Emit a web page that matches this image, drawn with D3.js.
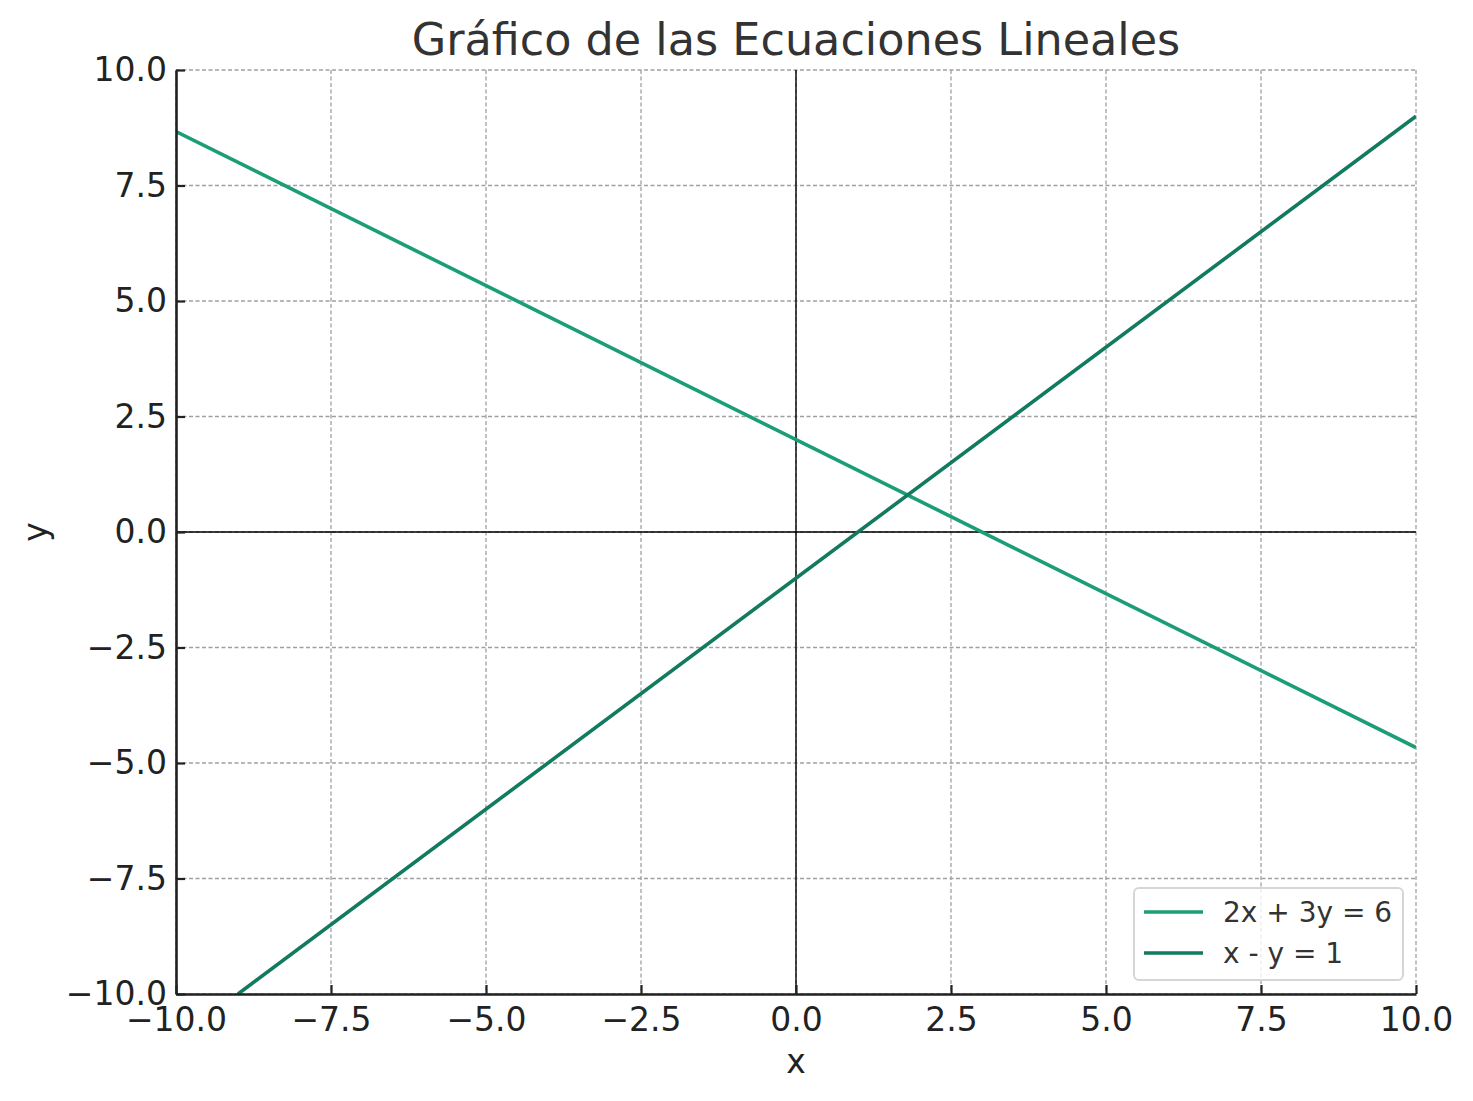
<!DOCTYPE html>
<html>
<head>
  <meta charset="utf-8">
  <title>Gráfico de las Ecuaciones Lineales</title>
  <script src="https://d3js.org/d3.v7.min.js"></script>
  <style>
    body { margin: 0; background: #fff; }
    text { font-family: "DejaVu Sans", sans-serif; }
  </style>
</head>
<body>
<script>
  var W = 1473, H = 1101;
  var margin = {top: 70, right: 57, bottom: 107, left: 176};

  // data: end points of each line
  var seriesNames = ["2x + 3y = 6", "x - y = 1"];
  var seriesColors = ["#1b9e77", "#127a5e"];
  var line1X = [-10, 10];
  var line1Y = [8.667, -4.667];
  var line2X = [-9, 10];
  var line2Y = [-10, 9];
  var xTicks = [-10, -7.5, -5, -2.5, 0, 2.5, 5, 7.5, 10];
  var yTicks = [-10, -7.5, -5, -2.5, 0, 2.5, 5, 7.5, 10];

  var iw = W - margin.left - margin.right;
  var ih = H - margin.top - margin.bottom;

  var svg = d3.select("body").append("svg").attr("width", W).attr("height", H);
  var g = svg.append("g").attr("transform", "translate(" + margin.left + "," + margin.top + ")");

  var x = d3.scaleLinear().domain([-10, 10]).range([0, iw]);
  var y = d3.scaleLinear().domain([-10, 10]).range([ih, 0]);

  var fmt = function(d){ return d3.format(".1f")(d).replace("-", "\u2212"); };

  // grid
  g.append("g").selectAll("line").data(xTicks).enter().append("line")
    .attr("x1", function(d){return x(d);}).attr("x2", function(d){return x(d);})
    .attr("y1", 0).attr("y2", ih)
    .attr("stroke", "#a0a0a0").attr("stroke-width", 1.3).attr("stroke-dasharray", "4,2.5");
  g.append("g").selectAll("line").data(yTicks).enter().append("line")
    .attr("y1", function(d){return y(d);}).attr("y2", function(d){return y(d);})
    .attr("x1", 0).attr("x2", iw)
    .attr("stroke", "#a0a0a0").attr("stroke-width", 1.3).attr("stroke-dasharray", "4,2.5");

  // zero lines
  g.append("line").attr("x1", x(0)).attr("x2", x(0)).attr("y1", 0).attr("y2", ih)
    .attr("stroke", "#000").attr("stroke-width", 1.4);
  g.append("line").attr("x1", 0).attr("x2", iw).attr("y1", y(0)).attr("y2", y(0))
    .attr("stroke", "#000").attr("stroke-width", 1.4);

  // lines
  svg.append("clipPath").attr("id", "clip").append("rect")
    .attr("width", iw).attr("height", ih);
  var series = [
    {name: seriesNames[0], color: seriesColors[0], pts: d3.zip(line1X, line1Y)},
    {name: seriesNames[1], color: seriesColors[1], pts: d3.zip(line2X, line2Y)}
  ];
  var lineGen = d3.line().x(function(d){return x(d[0]);}).y(function(d){return y(d[1]);});
  g.append("g").attr("clip-path", "url(#clip)").selectAll("path").data(series).enter().append("path")
    .attr("d", function(d){return lineGen(d.pts);})
    .attr("fill", "none").attr("stroke", function(d){return d.color;})
    .attr("stroke-width", 3.6);

  // axes
  var xAxis = g.append("g").attr("transform", "translate(0," + ih + ")")
    .call(d3.axisBottom(x).tickValues(xTicks).tickFormat(fmt).tickSizeInner(-9).tickSizeOuter(0).tickPadding(14));
  var yAxis = g.append("g")
    .call(d3.axisLeft(y).tickValues(yTicks).tickFormat(fmt).tickSizeInner(-9).tickSizeOuter(0).tickPadding(10));
  [xAxis, yAxis].forEach(function(a){
    a.select(".domain").attr("stroke", "#222").attr("stroke-width", 2.6);
    a.selectAll(".tick line").attr("stroke", "#222").attr("stroke-width", 2.2);
    a.selectAll(".tick text").attr("font-size", 33).attr("fill", "#222")
      .attr("font-family", "DejaVu Sans");
  });
  yAxis.selectAll(".tick text").attr("x", -9);

  // title and labels
  svg.append("text").attr("x", margin.left + iw / 2).attr("y", 55)
    .attr("text-anchor", "middle").attr("font-size", 44.5).attr("fill", "#333")
    .text("Gráfico de las Ecuaciones Lineales");
  svg.append("text").attr("x", margin.left + iw / 2).attr("y", 1073)
    .attr("text-anchor", "middle").attr("font-size", 33).attr("fill", "#222").text("x");
  svg.append("text").attr("transform", "translate(47," + (margin.top + ih / 2) + ") rotate(-90)")
    .attr("text-anchor", "middle").attr("font-size", 33).attr("fill", "#222").text("y");

  // legend
  var lg = svg.append("g").attr("transform", "translate(1134,888)");
  lg.append("rect").attr("width", 269).attr("height", 92).attr("rx", 5)
    .attr("fill", "#fff").attr("fill-opacity", 0.8).attr("stroke", "#d6d6d6").attr("stroke-width", 2);
  var items = lg.selectAll("g.item").data(series).enter().append("g")
    .attr("transform", function(d, i){ return "translate(0," + (24 + i * 41) + ")"; });
  items.append("line").attr("x1", 10).attr("x2", 69)
    .attr("stroke", function(d){return d.color;}).attr("stroke-width", 3.6);
  items.append("text").attr("x", 89).attr("y", 10).attr("font-size", 28).attr("fill", "#333")
    .text(function(d){return d.name;});
</script>
</body>
</html>
